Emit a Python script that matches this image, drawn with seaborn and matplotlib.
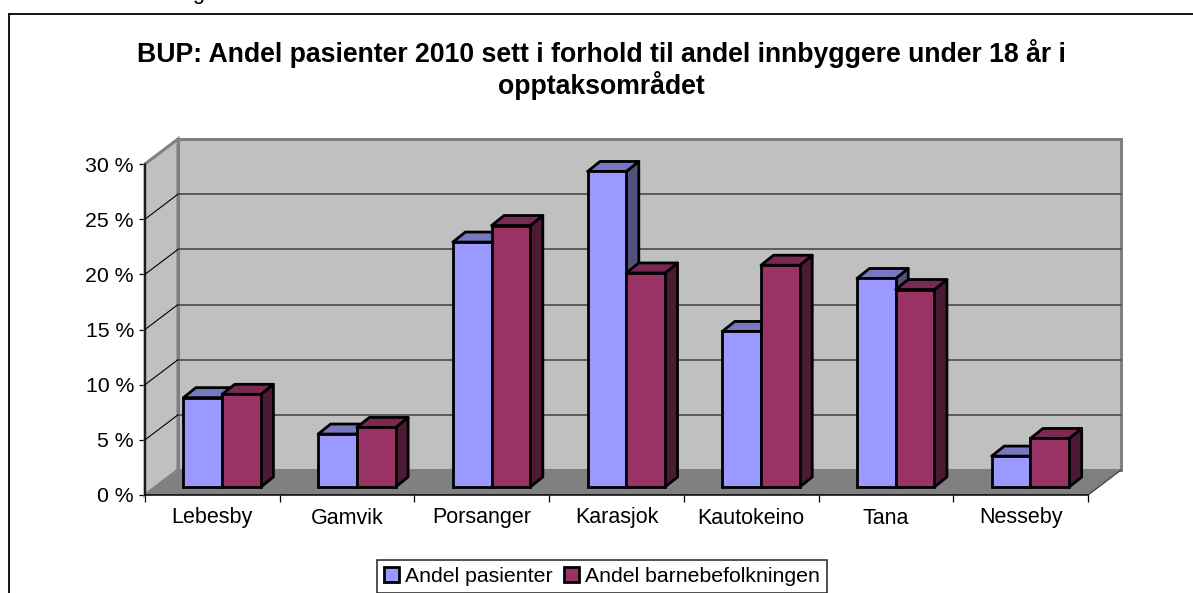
import numpy as np
import pandas as pd
import matplotlib
matplotlib.use('Agg')
import matplotlib.pyplot as plt
from matplotlib.patches import Polygon
import seaborn as sns

kommuner = ['Lebesby', 'Gamvik', 'Porsanger', 'Karasjok', 'Kautokeino', 'Tana', 'Nesseby']
andel_pasienter = [8.1, 4.8, 22.2, 28.6, 14.1, 18.9, 2.8]
andel_barn = [8.4, 5.4, 23.7, 19.4, 20.1, 17.9, 4.4]
y_ticks = [0, 5, 10, 15, 20, 25, 30]
y_labels = ['0 %', '5 %', '10 %', '15 %', '20 %', '25 %', '30 %']
serie_navn = ['Andel pasienter', 'Andel barnebefolkningen']
tittel = 'BUP: Andel pasienter 2010 sett i forhold til andel innbyggere under 18 år i\nopptaksområdet'

W, H = 1193, 593
FARGER = {'face': ['#9999FF', '#993366'], 'top': ['#7777C2', '#7A2952'], 'side': ['#52527F', '#4D1A33']}

sns.set_theme(style='white')
plt.rcParams['font.family'] = ['Liberation Sans', 'DejaVu Sans']

df = pd.DataFrame({
    'kommune': kommuner * 2,
    'andel': andel_pasienter + andel_barn,
    'serie': [serie_navn[0]] * 7 + [serie_navn[1]] * 7,
})


def axes_px(x0, x1, y_top, y_bottom):
    # pixel box -> figure fractions
    return [x0 / W, 1 - y_bottom / H, (x1 - x0) / W, (y_bottom - y_top) / H]


fig = plt.figure(figsize=(W / 100, H / 100), dpi=100, facecolor='white')

# chart frame, runs off the image at right and bottom
fig.add_artist(plt.Line2D([8.5 / W, 8.5 / W], [0, 1 - 14 / H], color='black', lw=1.3))
fig.add_artist(plt.Line2D([8.5 / W, 1], [1 - 14 / H, 1 - 14 / H], color='black', lw=1.3))
# tail of the line above the chart, cut by the image edge in the reference too
fig.text(198 / W, 1 + 1.5 / H, 'g', fontsize=15.5, ha='center', va='baseline', color='black')

fig.text(601.5 / W, 1 - 69.5 / H, tittel, fontsize=19.2, fontweight='bold', ha='center', va='center',
         color='black', linespacing=1.13)

# front plane of the box: walls, floor, ticks
ax = fig.add_axes(axes_px(145, 1088, 164, 495), facecolor='none', zorder=1)
ax.set_xlim(-0.5, 6.5)
ax.set_ylim(0, 30)
px_x = 7 / 943
px_y = 30 / 331
dx, dy = 33 * px_x, 25 * px_y
x0, x1 = -0.5, 6.5

ax.add_patch(Polygon([(x0 + dx, dy), (x1 + dx, dy), (x1 + dx, 30 + dy), (x0 + dx, 30 + dy)], closed=True,
                     fc='#C0C0C0', ec='#808080', lw=2.2, clip_on=False, zorder=1))
ax.add_patch(Polygon([(x0, 0), (x0 + dx, dy), (x0 + dx, 30 + dy), (x0, 30)], closed=True,
                     fc='#C0C0C0', ec='#808080', lw=2.2, clip_on=False, zorder=1.2))
for t in y_ticks[1:-1]:
    ax.plot([x0 + dx, x1 + dx], [t + dy, t + dy], color='#4A4A4A', lw=1.2, clip_on=False, zorder=1.5)
    ax.plot([x0, x0 + dx], [t, t + dy], color='black', lw=0.8, clip_on=False, zorder=1.5)
ax.add_patch(Polygon([(x0, 0), (x1, 0), (x1 + dx, dy), (x0 + dx, dy)], closed=True,
                     fc='#808080', ec='none', clip_on=False, zorder=1.6))
ax.plot([x1, x1 + dx], [0, dy], color='#404040', lw=0.9, clip_on=False, zorder=1.7)

for s in ['top', 'right']:
    ax.spines[s].set_visible(False)
for s in ['left', 'bottom']:
    ax.spines[s].set_color('black')
    ax.spines[s].set_linewidth(1.1)
    ax.spines[s].set_zorder(2)
ax.set_yticks(y_ticks)
ax.set_yticklabels(y_labels, fontsize=15.3, color='black')
ax.set_xticks(np.arange(-0.5, 7))
ax.set_xticklabels([])
ax.set_xticks(np.arange(7), minor=True)
ax.set_xticklabels(kommuner, minor=True, fontsize=15.5, color='black')
ax.tick_params(axis='y', which='major', left=True, length=4, width=0.9, color='black', pad=4)
ax.tick_params(axis='x', which='major', bottom=True, length=5, width=0.9, color='black')
ax.tick_params(axis='x', which='minor', bottom=False, length=0, pad=9)

# bars sit a little behind the front plane
bar_ax = fig.add_axes(axes_px(154.8, 1097.8, 156, 487), facecolor='none', zorder=2)
sns.barplot(data=df, x='kommune', y='andel', hue='serie', order=kommuner, hue_order=serie_navn,
            palette=FARGER['face'], width=0.575, gap=0, saturation=1, edgecolor='black', linewidth=2,
            errorbar=None, ax=bar_ax)
bar_ax.set_xlim(-0.5, 6.5)
bar_ax.set_ylim(0, 30)
handles, labels = bar_ax.get_legend_handles_labels()
bar_ax.get_legend().remove()

bx, by = 12.5 * px_x, 10 * px_y
for i, p in enumerate(bar_ax.patches[:14]):
    serie = i // 7
    l, r, h = p.get_x(), p.get_x() + p.get_width(), p.get_height()
    z = 2 + serie * 2
    bar_ax.add_patch(Polygon([(r, 0), (r + bx, by), (r + bx, h + by), (r, h)], closed=True,
                             fc=FARGER['side'][serie], ec='black', lw=2, joinstyle='round', clip_on=False, zorder=z))
    bar_ax.add_patch(Polygon([(l, h), (l + bx, h + by), (r + bx, h + by), (r, h)], closed=True,
                             fc=FARGER['top'][serie], ec='black', lw=2, joinstyle='round', clip_on=False, zorder=z))
    p.set_zorder(z + 1)
    p.set_clip_on(False)
bar_ax.axis('off')

leg = fig.legend(handles, labels, loc='center', bbox_to_anchor=(602 / W, 1 - 576.5 / H), ncol=2, fontsize=15.3,
                 frameon=True, fancybox=False, edgecolor='#202020', facecolor='white', framealpha=1,
                 handlelength=0.68, handleheight=0.68, handletextpad=0.3, columnspacing=0.55,
                 borderpad=0.34, borderaxespad=0, labelcolor='black')
leg.get_frame().set_linewidth(1.1)
for h in leg.legend_handles:
    h.set_edgecolor('black')
    h.set_linewidth(2)

fig.savefig('out.png', dpi=100)
